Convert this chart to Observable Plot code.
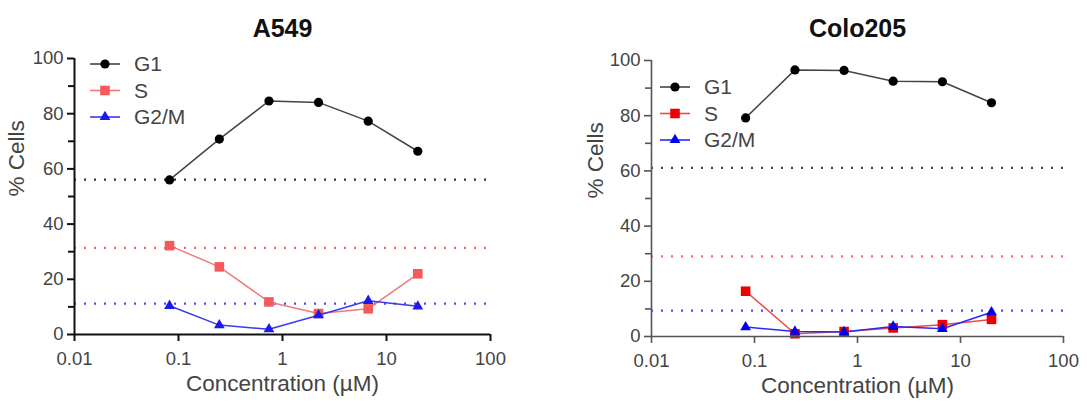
<!DOCTYPE html>
<html><head><meta charset="utf-8">
<script src="https://cdn.jsdelivr.net/npm/d3@7"></script>
<script src="https://cdn.jsdelivr.net/npm/@observablehq/plot@0.6"></script>
<style>
body{margin:0;background:#fff;font-family:"Liberation Sans",Arial,sans-serif;}
#wrap{position:relative;width:1087px;height:406px;overflow:hidden;background:#fff;}
.panel{position:absolute;top:0;}
.legend{position:absolute;}
</style></head><body><div id="wrap"></div>
<script>
// ---- data ----
const concentrations = [0.082, 0.247, 0.741, 2.22, 6.67, 20];
const phases = ["G1", "S", "G2/M"];
const a549_G1 = [56.0, 70.8, 84.6, 84.1, 77.3, 66.4];
const a549_S = [32.2, 24.5, 11.8, 7.6, 9.3, 22.0];
const a549_G2M = [10.4, 3.4, 1.9, 7.0, 12.2, 10.2];
const a549_control = [56.1, 31.4, 11.2];
const colo_G1 = [79.2, 96.6, 96.4, 92.5, 92.3, 84.7];
const colo_S = [16.4, 1.0, 1.8, 3.1, 4.3, 6.2];
const colo_G2M = [3.4, 1.8, 1.6, 3.6, 2.8, 8.8];
const colo_control = [61.1, 29.0, 9.4];
const xTicks = [0.01, 0.1, 1, 10, 100];
const xTickLabels = ["0.01", "0.1", "1", "10", "100"];
const yTicks = [0, 20, 40, 60, 80, 100];
const yMinorTicks = [10, 30, 50, 70, 90];
const titles = ["A549", "Colo205"];
const xLabel = "Concentration (µM)";
const yLabel = "% Cells";

const symbols = ["circle", "square", "triangle"];
const FONT = '"Liberation Sans", Arial, sans-serif';

const panels = [
  {
    title: titles[0], values: [a549_G1, a549_S, a549_G2M], control: a549_control,
    left: 0, width: 543, mL: 74, mR: 53, mT: 58, mB: 72,
    lineColors: ["#444", "#f07a7a", "#3a3af0"],
    markColors: ["#000", "#f55a5a", "#1a1aee"],
    dotColors: ["#333", "#f26a6a", "#4a4af5"],
    axisColor: "#111", axisWidth: 2, yLabelDx: -58,
    legend: {left: 88, top: 51}
  },
  {
    title: titles[1], values: [colo_G1, colo_S, colo_G2M], control: colo_control,
    left: 543, width: 544, mL: 108, mR: 24, mT: 60, mB: 70,
    lineColors: ["#444", "#f04848", "#2a2af5"],
    markColors: ["#000", "#ee0000", "#0000ee"],
    dotColors: ["#444", "#f06a6a", "#4a4af5"],
    axisColor: "#555", axisWidth: 1.6, yLabelDx: -56,
    legend: {left: 658, top: 74}
  }
];

const wrap = document.getElementById("wrap");

panels.forEach(cfg => {
  const marks = [];
  phases.forEach((p, i) => {
    marks.push(Plot.ruleY([{phase: p, value: cfg.control[i]}], {
      y: "value", stroke: cfg.dotColors[i], strokeWidth: 2.2, strokeDasharray: "2,8"
    }));
  });
  phases.forEach((p, i) => {
    const rows = concentrations.map((c, j) => ({phase: p, conc: c, value: cfg.values[i][j]}));
    marks.push(Plot.line(rows, {x: "conc", y: "value", stroke: cfg.lineColors[i], strokeWidth: 1.5}));
    marks.push(Plot.dot(rows, {
      x: "conc", y: "value", symbol: () => symbols[i], fill: cfg.markColors[i], stroke: "none",
      r: i === 0 ? 4.6 : (i === 1 ? 5.4 : 4.0)
    }));
  });
  marks.push(
    Plot.ruleX([xTicks[0]], {stroke: cfg.axisColor, strokeWidth: cfg.axisWidth}),
    Plot.ruleY([yTicks[0]], {stroke: cfg.axisColor, strokeWidth: cfg.axisWidth}),
    Plot.axisX({ticks: xTicks, tickFormat: d => xTickLabels[xTicks.indexOf(d)], tickSize: 7, tickPadding: 10,
      fontSize: 18.5, fill: "#444", stroke: cfg.axisColor, strokeWidth: cfg.axisWidth, label: null}),
    Plot.axisY({ticks: yTicks, tickSize: 7, tickPadding: 4, fontSize: 18.5, fill: "#444",
      stroke: cfg.axisColor, strokeWidth: cfg.axisWidth, label: null}),
    Plot.axisY({ticks: yMinorTicks, tickSize: 6, fill: "none", stroke: cfg.axisColor, strokeWidth: cfg.axisWidth, label: null}),
    Plot.text([cfg.title], {text: d => d, frameAnchor: "top", dy: -(cfg.mT - 19), fontSize: 25, fontWeight: "bold", fill: "#111"}),
    Plot.text([xLabel], {text: d => d, frameAnchor: "bottom", dy: 56, fontSize: 22.5, fill: "#444"}),
    Plot.text([yLabel], {text: d => d, frameAnchor: "left", rotate: -90, dx: cfg.yLabelDx, fontSize: 22.5, fill: "#444"})
  );

  const svg = Plot.plot({
    width: cfg.width, height: 406,
    marginLeft: cfg.mL, marginRight: cfg.mR, marginTop: cfg.mT, marginBottom: cfg.mB,
    x: {type: "log", domain: [xTicks[0], xTicks[xTicks.length - 1]], axis: null},
    y: {domain: [yTicks[0], yTicks[yTicks.length - 1]], axis: null},
    style: {fontFamily: FONT, background: "transparent", overflow: "visible"},
    marks
  });
  svg.classList.add("panel");
  svg.style.left = cfg.left + "px";
  svg.style.position = "absolute";
  wrap.appendChild(svg);

  // legend
  const lg = d3.create("svg").attr("width", 140).attr("height", 92)
    .attr("class", "legend")
    .style("left", cfg.legend.left + "px").style("top", cfg.legend.top + "px");
  const symMap = {circle: d3.symbolCircle, square: d3.symbolSquare, triangle: d3.symbolTriangle};
  const sizes = [4.6, 5.4, 4.0];
  phases.forEach((p, i) => {
    const y = 13 + i * 26.5;
    const g = lg.append("g").attr("transform", `translate(0,${y})`);
    g.append("line").attr("x1", 2).attr("x2", 32).attr("y1", 0).attr("y2", 0)
      .attr("stroke", cfg.lineColors[i]).attr("stroke-width", 1.6);
    g.append("path").attr("transform", "translate(17,0)")
      .attr("d", d3.symbol(symMap[symbols[i]], Math.PI * sizes[i] * sizes[i])())
      .attr("fill", cfg.markColors[i]);
    g.append("text").attr("x", 46).attr("y", 0).attr("dy", "0.35em")
      .attr("font-size", 21).attr("fill", "#444").attr("font-family", FONT).text(p);
  });
  wrap.appendChild(lg.node());
});
</script></body></html>
